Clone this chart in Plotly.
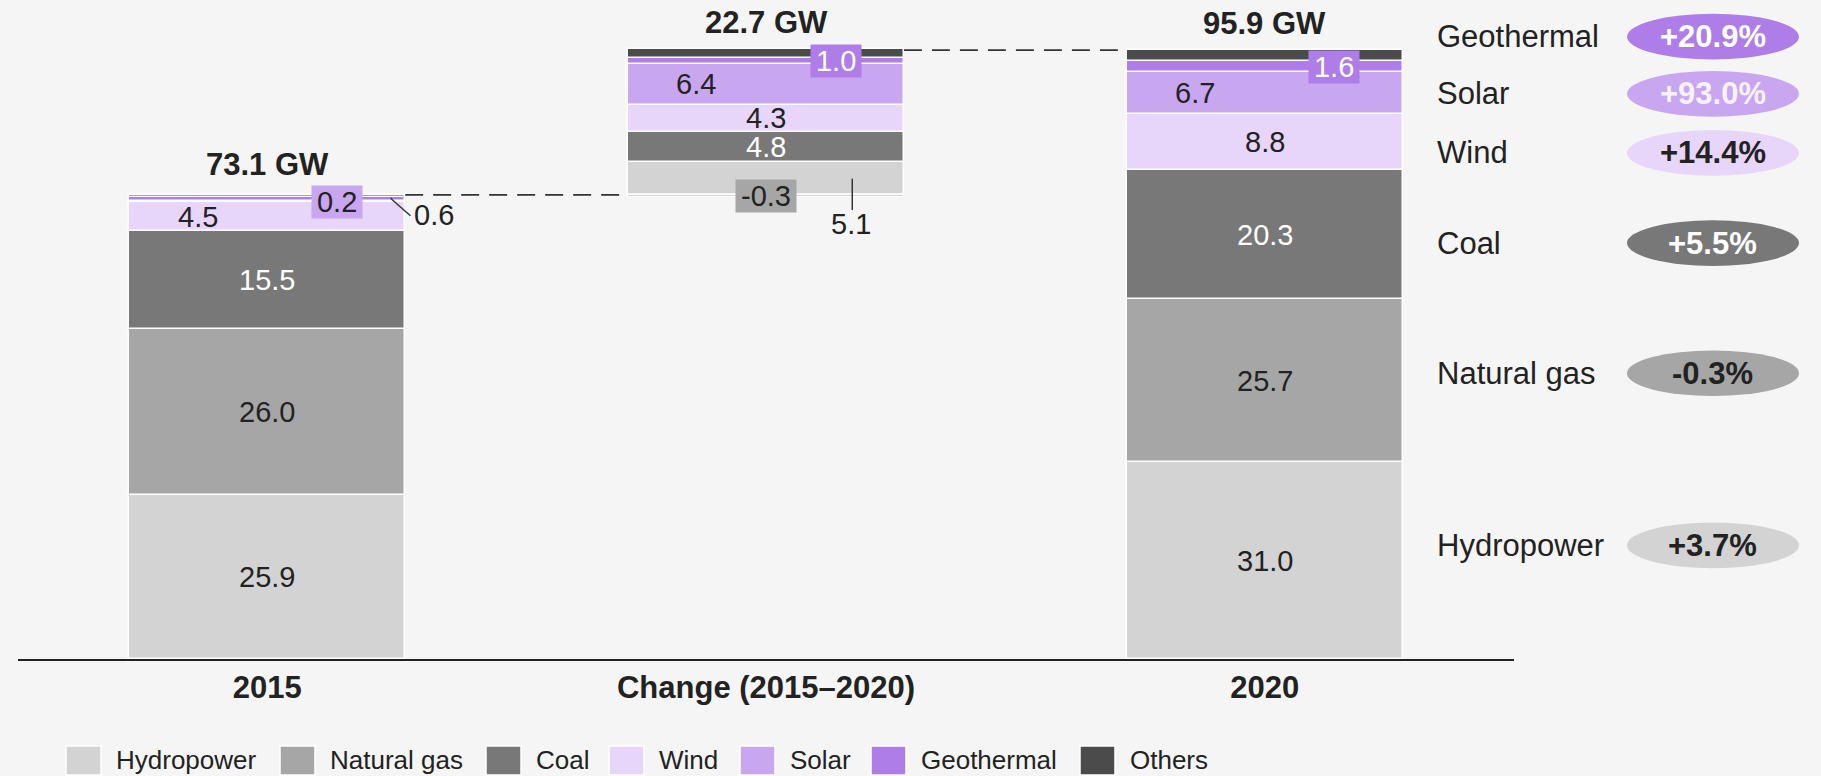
import plotly.graph_objects as go

# ---------------- data ----------------
columns = ["2015", "Change (2015–2020)", "2020"]
sources = ["Hydropower", "Natural gas", "Coal", "Wind", "Solar", "Geothermal", "Others"]
capacity_2015 = [25.9, 26.0, 15.5, 4.5, 0.2, 0.6, 0.4]
capacity_change = [5.1, -0.3, 4.8, 4.3, 6.4, 1.0, 1.4]
capacity_2020 = [31.0, 25.7, 20.3, 8.8, 6.7, 1.6, 1.8]
growth_sources = ["Geothermal", "Solar", "Wind", "Coal", "Natural gas", "Hydropower"]
growth_labels = ["+20.9%", "+93.0%", "+14.4%", "+5.5%", "-0.3%", "+3.7%"]

# ---------------- style / layout ----------------
W, H = 1821, 776
M_L, M_R, M_T, M_B = 18, 307, 24, 117
Y_MAX = 100
BAR_W = 0.553
FONT = "Liberation Sans, Arial, Helvetica, sans-serif"
DARK = "#222222"
BG = "#F5F5F5"
colors = {
    "Hydropower": "#D3D3D3",
    "Natural gas": "#A6A6A6",
    "Coal": "#787878",
    "Wind": "#E8D5FA",
    "Solar": "#C8A6F0",
    "Geothermal": "#AE7DE8",
    "Others": "#4B4B4B",
}
white_text = {"Coal"}
pill_text_color = {"Geothermal": "white", "Solar": "#F7F2FD", "Wind": DARK,
                   "Coal": "white", "Natural gas": DARK, "Hydropower": DARK}
# right-hand label vertical positions (in GW units of the y axis)
growth_label_y = [98.0, 89.0, 79.7, 65.5, 45.0, 17.9]
PILL_HALF_H = 3.6
# legend geometry in pixels
legend_left_px = [66, 280, 486, 609, 740, 871, 1080]
LEG_SQ_W, LEG_SQ_TOP, LEG_SQ_BOT = 35, 746, 775
LEG_TEXT_GAP = 13

SEG_FONT = 29
OFF = 0.14
# label placement overrides: (column index, source) -> spec
label_spec = {
    (0, "Wind"): {"mode": "text", "dx": -OFF},
    (0, "Solar"): {"mode": "box", "dx": OFF},
    (0, "Geothermal"): {"mode": "callout", "line": (0.247, 0.15, 0.287, -2.6), "text": (0.335, -2.5)},
    (0, "Others"): {"mode": "hide"},
    (1, "Hydropower"): {"mode": "callout", "line": (0.173, 0.0, 0.173, -4.95), "text": (0.171, -7.2)},
    (1, "Natural gas"): {"mode": "box", "dx": 0.0},
    (1, "Solar"): {"mode": "text", "dx": -OFF},
    (1, "Geothermal"): {"mode": "box", "dx": OFF},
    (1, "Others"): {"mode": "hide"},
    (2, "Solar"): {"mode": "text", "dx": -OFF},
    (2, "Geothermal"): {"mode": "box", "dx": OFF},
    (2, "Others"): {"mode": "hide"},
}
total_yshift = [11, 7, 7]


def px_x(p):
    return (p - M_L) / (W - M_L - M_R)


def px_y(p):
    return (H - M_B - p) / (H - M_T - M_B)


def text_width(s, size):
    w = 0.0
    for ch in s:
        if ch.isdigit():
            w += 0.556
        elif ch == ".":
            w += 0.278
        elif ch == "-":
            w += 0.333
        else:
            w += 0.5
    return w * size


series = [capacity_2015, capacity_change, capacity_2020]
totals = [sum(s) for s in series]

bases, tops = [], []
for ci, vals in enumerate(series):
    start = totals[0] if ci == 1 else 0.0
    pos, neg = start, start
    b = []
    for v in vals:
        if v >= 0:
            b.append(pos)
            pos += v
        else:
            b.append(neg)
            neg += v
    bases.append(b)
    tops.append(pos)

xs = list(range(len(columns)))
fig = go.Figure()
for si, src in enumerate(sources):
    fig.add_trace(go.Bar(
        x=xs,
        y=[series[c][si] for c in xs],
        base=[bases[c][si] for c in xs],
        width=BAR_W,
        name=src,
        marker=dict(color=colors[src], line=dict(color="white", width=1.5)),
        showlegend=False,
        hovertemplate=src + ": %{y}<extra></extra>",
    ))

annotations = []
shapes = []

# segment labels
for ci in xs:
    for si, src in enumerate(sources):
        v = series[ci][si]
        mid = bases[ci][si] + v / 2
        txt = f"{v:.1f}"
        spec = label_spec.get((ci, src), {"mode": "text", "dx": 0.0})
        fc = "white" if src in white_text else DARK
        mode = spec["mode"]
        if mode == "hide":
            continue
        if mode == "text":
            annotations.append(dict(x=ci + spec["dx"], y=mid, xref="x", yref="y", text=txt,
                                    xanchor="center", showarrow=False,
                                    font=dict(size=SEG_FONT, color=fc, family=FONT)))
        elif mode == "box":
            fc = "white" if src == "Geothermal" else DARK
            annotations.append(dict(x=ci + spec["dx"], y=mid, xref="x", yref="y", text=txt,
                                    xanchor="center", showarrow=False, bgcolor=colors[src], borderpad=0,
                                    width=text_width(txt, SEG_FONT) + 10, height=32,
                                    font=dict(size=SEG_FONT, color=fc, family=FONT)))
        elif mode == "callout":
            x0, dy0, x1, dy1 = spec["line"]
            tx, tdy = spec["text"]
            shapes.append(dict(type="line", xref="x", yref="y", x0=ci + x0, y0=mid + dy0,
                               x1=ci + x1, y1=mid + dy1, line=dict(color="#333333", width=1.5)))
            annotations.append(dict(x=ci + tx, y=mid + tdy, xref="x", yref="y", text=txt,
                                    xanchor="center", showarrow=False,
                                    font=dict(size=SEG_FONT, color=DARK, family=FONT)))

# totals
for ci in xs:
    annotations.append(dict(x=ci, y=tops[ci], xref="x", yref="y", text=f"<b>{totals[ci]:.1f} GW</b>",
                            xanchor="center", showarrow=False, yanchor="bottom", yshift=total_yshift[ci],
                            font=dict(size=31, color=DARK, family=FONT)))

# dashed connectors
dash = "18px,10px"
shapes.append(dict(type="line", xref="x", yref="y", x0=0 + BAR_W / 2, x1=1 - BAR_W / 2,
                   y0=totals[0], y1=totals[0], line=dict(color="#333333", width=1.8, dash=dash)))
shapes.append(dict(type="line", xref="x", yref="y", x0=1 + BAR_W / 2, x1=2 - BAR_W / 2,
                   y0=totals[2], y1=totals[2], line=dict(color="#333333", width=1.8, dash=dash)))

# growth labels & pills (pills in paper coords so they are not clipped by the plot area)
pill_x0, pill_x1 = px_x(1627), px_x(1799)
for src, lab, yc in zip(growth_sources, growth_labels, growth_label_y):
    annotations.append(dict(x=px_x(1435), y=yc, xref="paper", yref="y", text=src, xanchor="left",
                            showarrow=False, font=dict(size=31, color=DARK, family=FONT)))
    shapes.append(dict(type="circle", xref="paper", yref="paper", x0=pill_x0, x1=pill_x1,
                       y0=(yc - PILL_HALF_H) / Y_MAX, y1=(yc + PILL_HALF_H) / Y_MAX,
                       fillcolor=colors[src], line=dict(width=0), layer="above"))
    annotations.append(dict(x=(pill_x0 + pill_x1) / 2, y=yc, xref="paper", yref="y",
                            text=f"<b>{lab}</b>", showarrow=False, xanchor="center", yanchor="middle",
                            font=dict(size=31, color=pill_text_color[src], family=FONT)))

# legend (drawn manually)
for src, lx in zip(sources, legend_left_px):
    shapes.append(dict(type="rect", xref="paper", yref="paper",
                       x0=px_x(lx), x1=px_x(lx + LEG_SQ_W), y0=px_y(LEG_SQ_BOT), y1=px_y(LEG_SQ_TOP),
                       fillcolor=colors[src], line=dict(color="white", width=1.5)))
    annotations.append(dict(x=px_x(lx + LEG_SQ_W + LEG_TEXT_GAP), y=px_y((LEG_SQ_TOP + LEG_SQ_BOT) / 2),
                            xref="paper", yref="paper", text=src, xanchor="left", yanchor="middle",
                            showarrow=False, font=dict(size=26, color=DARK, family=FONT)))

fig.update_layout(
    width=W, height=H,
    margin=dict(l=M_L, r=M_R, t=M_T, b=M_B, pad=0),
    paper_bgcolor=BG, plot_bgcolor=BG,
    barmode="overlay",
    bargap=0,
    font=dict(family=FONT, color=DARK),
    annotations=annotations,
    shapes=shapes,
    xaxis=dict(range=[-0.5, 2.5], tickvals=xs, ticktext=[f"<b>{c}</b>" for c in columns],
               tickfont=dict(size=31, color=DARK, family=FONT), showgrid=False, zeroline=False,
               showline=True, linecolor=DARK, linewidth=2, ticks="", ticklabelstandoff=0,
               fixedrange=True),
    yaxis=dict(range=[0, Y_MAX], visible=False, fixedrange=True),
)

fig.write_html("out.html", config={"displayModeBar": False},
               post_script="document.body.style.margin='0';document.body.style.overflow='hidden';")
